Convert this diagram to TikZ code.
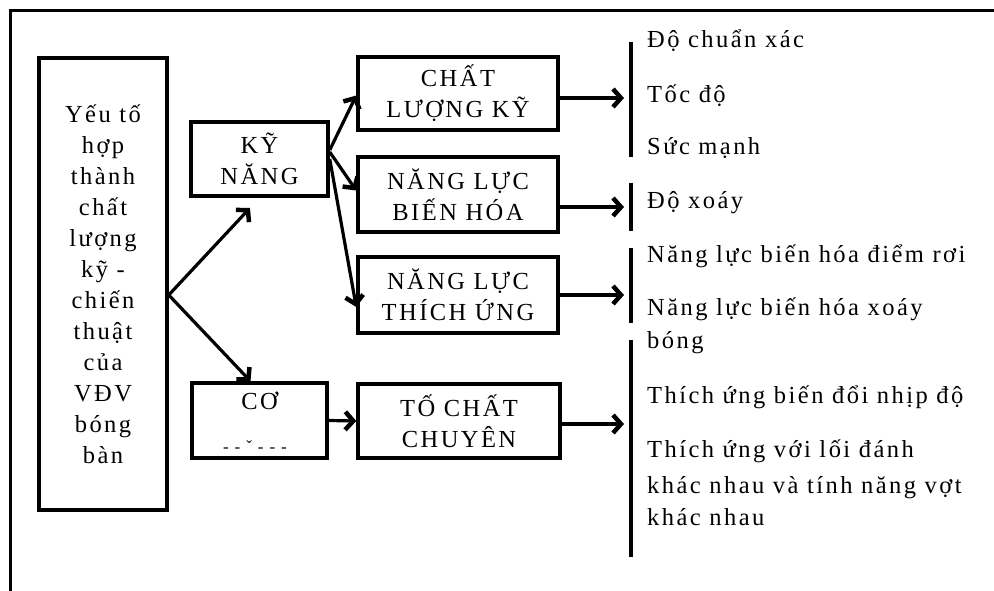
\documentclass[tikz,border=0pt]{standalone}
\usepackage{fontspec}
\setmainfont{Liberation Serif}[LetterSpace=10]
\usetikzlibrary{arrows.meta,positioning}

\begin{document}
\begin{tikzpicture}[x=1pt, y=-1pt,
        box/.style={draw, line width=3.5pt, align=center, inner sep=2pt,
            font=\fontsize{24.5}{31}\selectfont},
        link/.style={-{Straight Barb[length=8pt,width=18pt,line width=0pt 1.4]}, line width=3.2pt},
        bar/.style={line width=4pt},
        item/.style={anchor=base west, inner sep=0pt, font=\fontsize{24.5}{31}\selectfont}]
        \useasboundingbox (0,0) rectangle (994,591);

        % Frame
        \draw[line width=3pt] (10,591) -- (10,11) -- (994,11);

        % Boxes
        \node[box, minimum width=128pt, minimum height=452pt] (main) at (103,284)
            {Yếu tố\\hợp\\thành\\chất\\lượng\\kỹ -\\chiến\\thuật\\của\\VĐV\\bóng\\bàn};
        \node[box, minimum width=137pt, minimum height=74pt] (kn) at (259.5,159) {KỸ\\NĂNG};
        \node[box, minimum width=135pt, minimum height=75pt] (co) at (259.5,420.5) {};
        \node[anchor=base, inner sep=0pt, font=\fontsize{24.5}{31}\selectfont] (cot) at (259.5,409) {CƠ};
        \node[anchor=base, inner sep=0pt, font=\fontsize{17}{18}\selectfont] (cob) at (255,452) {-\ -\ ˇ\ -\ -\ -};
        \node[box, minimum width=200pt, minimum height=73pt] (cl) at (458,93.5) {CHẤT\\LƯỢNG KỸ};
        \node[box, minimum width=200pt, minimum height=75pt] (bh) at (458,194.5) {NĂNG LỰC\\BIẾN HÓA};
        \node[box, minimum width=200pt, minimum height=76pt] (tu) at (458,295) {NĂNG LỰC\\THÍCH ỨNG};
        \node[box, minimum width=202pt, minimum height=74pt] (tc) at (459,421) {TỐ CHẤT\\CHUYÊN};

        % Bars
        \coordinate (b1) at (624,98);
        \coordinate (b2) at (624,207);
        \coordinate (b3) at (624,295);
        \coordinate (b4) at (624,424);
        \draw[bar] (631,42) -- (631,157);
        \draw[bar] (631,183) -- (631,231);
        \draw[bar] (631,248) -- (631,323);
        \draw[bar] (631,340) -- (631,557);

        % Arrows
        \draw[link, shorten >=14pt] ([yshift=-11pt]main.east) -- (kn.south);
        \draw[link] ([yshift=-11pt]main.east) -- ([xshift=-9pt]co.north);
        \draw[link] ([yshift=9pt]kn.east) -- ([yshift=-2pt]cl.west);
        \draw[link] ([yshift=7pt]kn.east) -- ([yshift=4pt]bh.west);
        \draw[link] (kn.east) -- ([yshift=-12pt]tu.west);
        \draw[link] (co.east) -- (tc.west);
        \draw[link] (cl.east |- b1) -- (b1);
        \draw[link] (bh.east |- b2) -- (b2);
        \draw[link] (tu.east |- b3) -- (b3);
        \draw[link] (tc.east |- b4) -- (b4);

        % Labels
        \node[item] (l1) at (647,48) {Độ chuẩn xác};
        \node[item] (l2) at (647,103) {Tốc độ};
        \node[item] (l3) at (647,155) {Sức mạnh};
        \node[item] (l4) at (647,208) {Độ xoáy};
        \node[item] (l5) at (647,262) {Năng lực biến hóa điểm rơi};
        \node[item] (l6) at (647,315) {Năng lực biến hóa xoáy};
        \node[item] (l7) at (647,348) {bóng};
        \node[item] (l8) at (647,403) {Thích ứng biến đổi nhịp độ};
        \node[item] (l9) at (647,457) {Thích ứng với lối đánh};
        \node[item] (l10) at (647,493) {khác nhau và tính năng vợt};
        \node[item] (l11) at (647,525) {khác nhau};
    \end{tikzpicture}
\end{document}
